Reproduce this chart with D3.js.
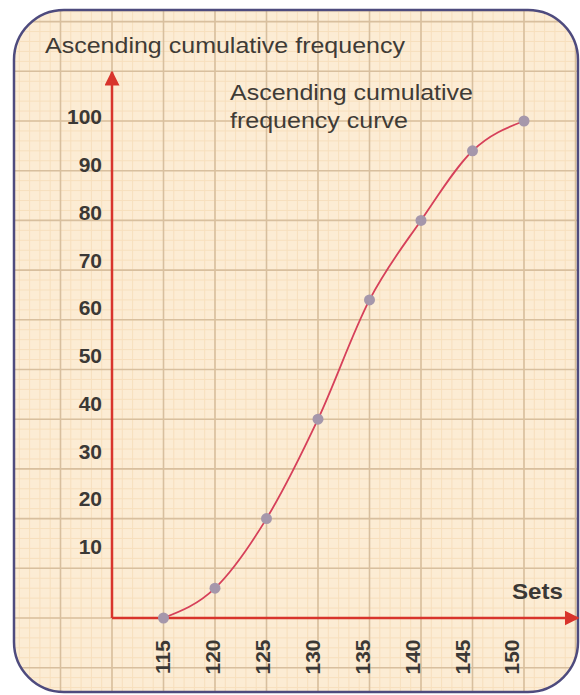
<!DOCTYPE html>
<html>
<head>
<meta charset="utf-8">
<script src="https://cdn.jsdelivr.net/npm/d3@7"></script>
<style>
  body { margin: 0; background: #ffffff; }
  svg { display: block; }
</style>
</head>
<body>
<div id="chart"></div>
<script>
// data
var sets = [115, 120, 125, 130, 135, 140, 145, 150];
var cumFreq = [0, 6, 20, 40, 64, 80, 94, 100];
var yTickLabels = [10, 20, 30, 40, 50, 60, 70, 80, 90, 100];
var xTickLabels = [115, 120, 125, 130, 135, 140, 145, 150];

var width = 580, height = 695;
var font = "Liberation Sans, Arial, sans-serif";

var svg = d3.select("#chart")
    .append("svg")
    .attr("width", width)
    .attr("height", height);

// scales for the plotted values
var xScale = d3.scaleLinear().domain([110, 150]).range([112, 524]);
var yScale = d3.scaleLinear().domain([0, 100]).range([618, 121]);

// the printed tick labels sit slightly squeezed compared to the grid
var xLabelScale = d3.scaleLinear().domain([115, 150]).range([163, 512]);
var yLabelScale = d3.scaleLinear().domain([10, 100]).range([547, 117]);

var defs = svg.append("defs");
defs.append("clipPath").attr("id", "box")
    .append("rect")
    .attr("x", 14).attr("y", 10)
    .attr("width", 564).attr("height", 682)
    .attr("rx", 50).attr("ry", 50);

defs.append("marker")
    .attr("id", "arrow")
    .attr("viewBox", "0 0 10 10")
    .attr("refX", 9).attr("refY", 5)
    .attr("markerWidth", 6).attr("markerHeight", 6)
    .attr("markerUnits", "strokeWidth")
    .attr("orient", "auto")
    .append("path")
    .attr("d", "M0,0 L10,5 L0,10 Z")
    .attr("fill", "#d8342c");

// background paper
svg.append("rect")
    .attr("x", 14).attr("y", 10)
    .attr("width", 564).attr("height", 682)
    .attr("rx", 50).attr("ry", 50)
    .attr("fill", "#fcecd4");

var grid = svg.append("g").attr("clip-path", "url(#box)");

// minor grid
var minorX = d3.range(100, 157, 1);
var minorY = d3.range(-16, 124, 2);
grid.selectAll(".mx").data(minorX).enter().append("line")
    .attr("x1", function(d) { return xScale(d); })
    .attr("x2", function(d) { return xScale(d); })
    .attr("y1", 0).attr("y2", height)
    .style("stroke", "#f7dfbd").style("stroke-width", 1);
grid.selectAll(".my").data(minorY).enter().append("line")
    .attr("y1", function(d) { return yScale(d); })
    .attr("y2", function(d) { return yScale(d); })
    .attr("x1", 0).attr("x2", width)
    .style("stroke", "#f7dfbd").style("stroke-width", 1);

// major grid
var majorX = d3.range(100, 160, 5);
var majorY = d3.range(-10, 130, 10);
grid.selectAll(".Mx").data(majorX).enter().append("line")
    .attr("x1", function(d) { return xScale(d); })
    .attr("x2", function(d) { return xScale(d); })
    .attr("y1", 0).attr("y2", height)
    .style("stroke", "#d8bf9e").style("stroke-width", 1.6);
grid.selectAll(".My").data(majorY).enter().append("line")
    .attr("y1", function(d) { return yScale(d); })
    .attr("y2", function(d) { return yScale(d); })
    .attr("x1", 0).attr("x2", width)
    .style("stroke", "#d8bf9e").style("stroke-width", 1.6);

// border
svg.append("rect")
    .attr("x", 14).attr("y", 10)
    .attr("width", 564).attr("height", 682)
    .attr("rx", 50).attr("ry", 50)
    .attr("fill", "none")
    .style("stroke", "#4e4b7e")
    .style("stroke-width", 2.5);

// axes with arrows
svg.append("line")
    .attr("x1", xScale(110)).attr("y1", yScale(0))
    .attr("x2", 578).attr("y2", yScale(0))
    .style("stroke", "#d8342c").style("stroke-width", 2.5)
    .attr("marker-end", "url(#arrow)");
svg.append("line")
    .attr("x1", xScale(110)).attr("y1", yScale(0))
    .attr("x2", xScale(110)).attr("y2", 72)
    .style("stroke", "#d8342c").style("stroke-width", 2.5)
    .attr("marker-end", "url(#arrow)");

var yAxis = d3.axisLeft(yLabelScale).tickValues(yTickLabels).tickSize(0).tickPadding(0);
var yg = svg.append("g")
    .attr("transform", "translate(102,0)")
    .call(yAxis);
yg.select(".domain").remove();
yg.selectAll("text")
    .attr("font-family", font)
    .attr("font-weight", "bold")
    .style("font-size", "21px")
    .style("fill", "#3b3835");

var xg = svg.append("g");
xg.selectAll(".xl").data(xTickLabels).enter().append("text")
    .attr("transform", function(d) { return "translate(" + xLabelScale(d) + ",657) rotate(-90)"; })
    .attr("text-anchor", "middle")
    .attr("dy", "0.35em")
    .attr("font-family", font)
    .attr("font-weight", "bold")
    .style("font-size", "21px")
    .style("fill", "#3b3835")
    .text(function(d) { return d; });

// curve
var line = d3.line()
    .x(function(d, i) { return xScale(sets[i]); })
    .y(function(d) { return yScale(d); })
    .curve(d3.curveMonotoneX);

svg.append("path")
    .datum(cumFreq)
    .attr("d", line)
    .attr("fill", "none")
    .style("stroke", "#d6405a")
    .style("stroke-width", 1.8);

svg.selectAll(".dot").data(cumFreq).enter().append("circle")
    .attr("cx", function(d, i) { return xScale(sets[i]); })
    .attr("cy", function(d) { return yScale(d); })
    .attr("r", 5.5)
    .attr("fill", "#a597ab");

// texts
svg.append("text")
    .attr("x", 45).attr("y", 53)
    .attr("font-family", font)
    .style("font-size", "22px")
    .style("fill", "#3f3b36")
    .attr("textLength", 360)
    .attr("lengthAdjust", "spacingAndGlyphs")
    .text("Ascending cumulative frequency");

var lbl = svg.append("text")
    .attr("font-family", font)
    .style("font-size", "22px")
    .style("fill", "#3f3b36");
lbl.append("tspan").attr("x", 230).attr("y", 100)
    .attr("textLength", 243).attr("lengthAdjust", "spacingAndGlyphs")
    .text("Ascending cumulative");
lbl.append("tspan").attr("x", 230).attr("y", 128)
    .attr("textLength", 178).attr("lengthAdjust", "spacingAndGlyphs")
    .text("frequency curve");

svg.append("text")
    .attr("x", 512).attr("y", 599)
    .attr("font-family", font)
    .attr("font-weight", "bold")
    .style("font-size", "22px")
    .attr("textLength", 51)
    .attr("lengthAdjust", "spacingAndGlyphs")
    .style("fill", "#3b3835")
    .text("Sets");
</script>
</body>
</html>
